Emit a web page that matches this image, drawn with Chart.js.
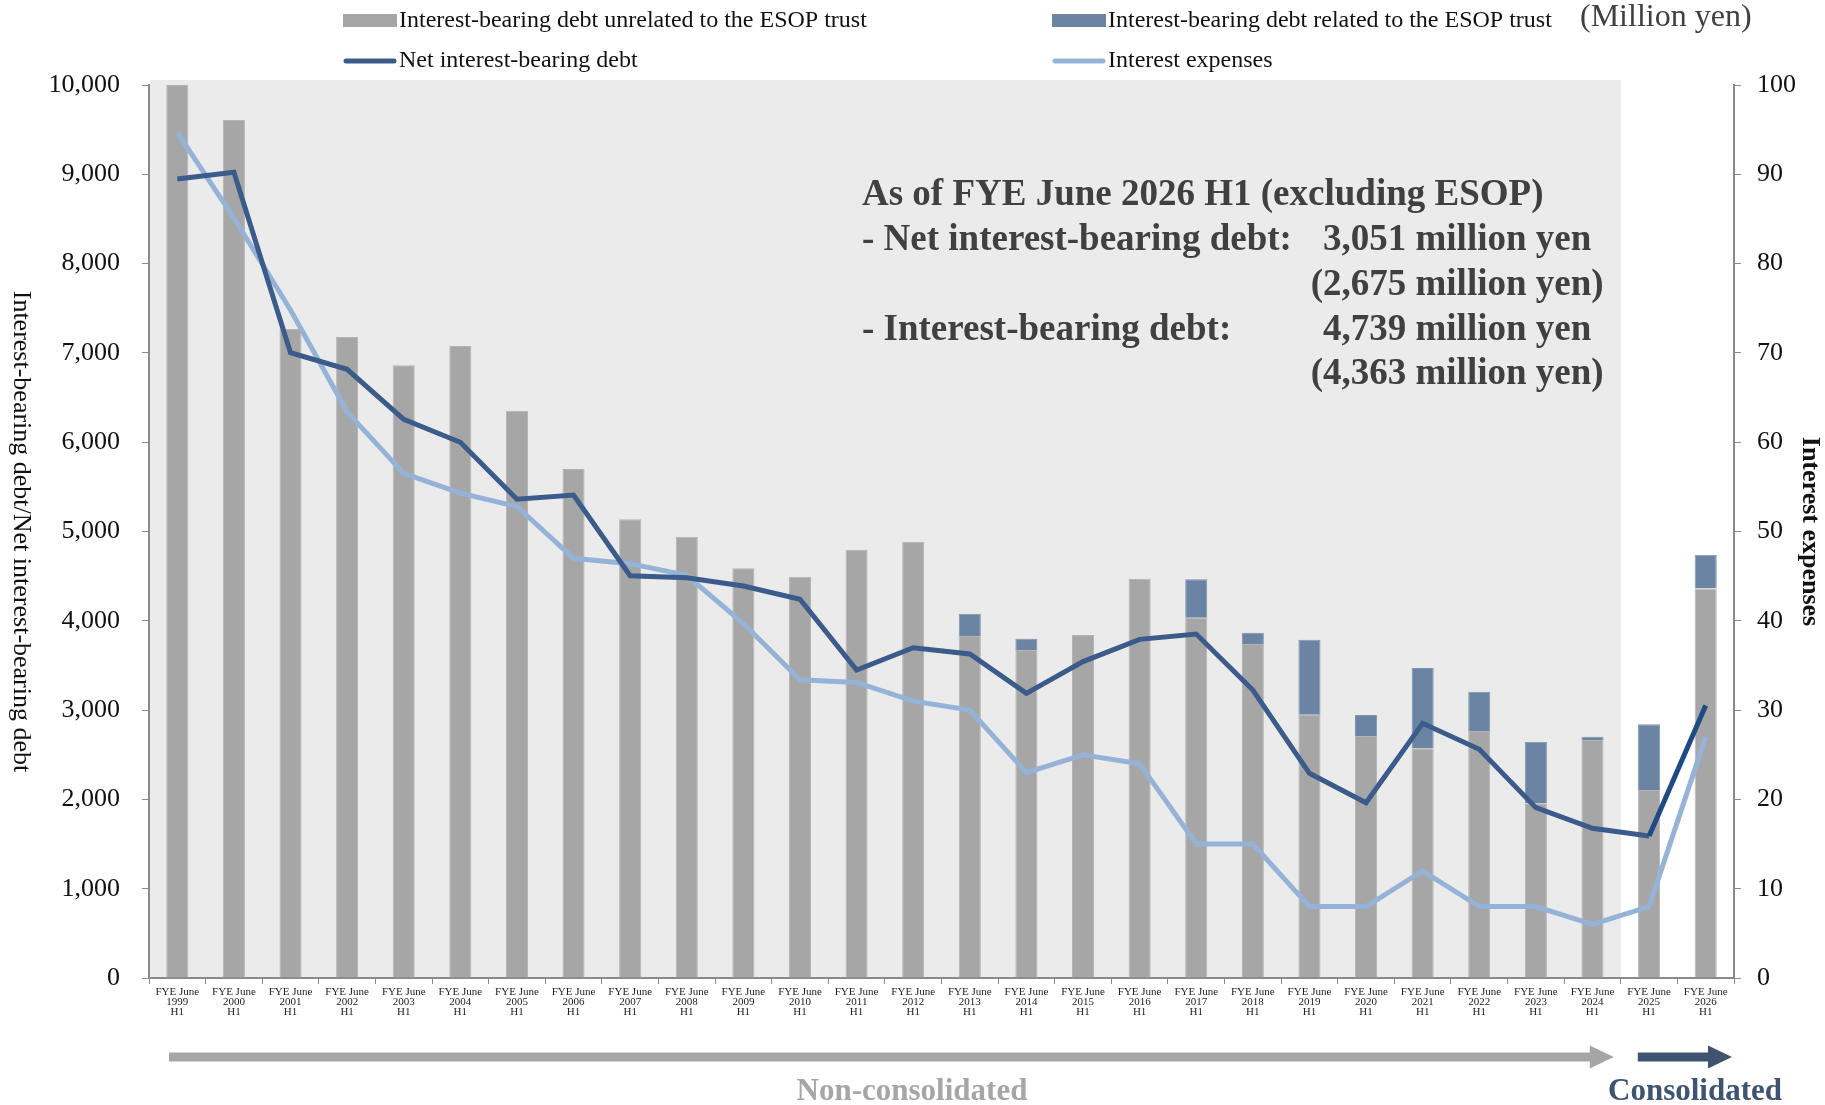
<!DOCTYPE html>
<html><head><meta charset="utf-8">
<script src="https://cdn.jsdelivr.net/npm/chart.js@4.4.1/dist/chart.umd.min.js"></script>
<style>html,body{margin:0;padding:0;background:#fff;}canvas{display:block;}</style>
</head><body>
<canvas id="c" width="1825" height="1105"></canvas>
<script>
// ---- data ----
const categories = ['1999','2000','2001','2002','2003','2004','2005','2006','2007','2008','2009','2010','2011','2012','2013','2014','2015','2016','2017','2018','2019','2020','2021','2022','2023','2024','2025','2026'];
const unrelatedDebt = [10000,9608,7268,7178,6861,7077,6353,5700,5137,4942,4588,4494,4796,4886,3830,3673,3841,4472,4035,3740,2949,2710,2572,2766,1956,2665,2105,4363];
const esopDebt = [0,0,0,0,0,0,0,0,0,0,0,0,0,0,250,127,0,0,430,127,840,235,899,440,690,37,736,376];
const netDebt = [8947,9022,7003,6816,6256,5999,5361,5409,4505,4483,4390,4241,3449,3699,3628,3188,3543,3792,3852,3225,2292,1963,2852,2561,1907,1676,1590,3051];
const interestExpenses = [94.7,85.1,74.8,63.4,56.5,54.3,52.8,47.0,46.4,45.1,39.7,33.4,33.1,31.0,30.0,23.0,25.0,24.0,15.0,15.0,8.0,8.0,12.0,8.0,8.0,6.0,8.0,27.0];
const seriesNames = ['Interest-bearing debt unrelated to the ESOP trust','Interest-bearing debt related to the ESOP trust','Net interest-bearing debt','Interest expenses'];
const xTickLabels = categories.map(y => ['FYE June', y, 'H1']);
const firstConsolidated = '2025';
const periodNames = ['Non-consolidated', 'Consolidated'];
const axisTitles = ['Interest-bearing debt/Net interest-bearing debt', 'Interest expenses'];
const unitLabel = '(Million yen)';

// ---- styles ----
const serif = "'Liberation Serif','Times New Roman',serif";
const C = {gray:'#a6a6a6', esop:'#6b84a4', net:'#3b5b8a', netDark:'#1f4a82', interest:'#95b3d7', axis:'#8a8a8a', bg:'#ebebeb', text:'#404040', cons:'#3f5470'};
const consIdx = categories.indexOf(firstConsolidated);
const fmt = v => v.toLocaleString('en-US');

const decor = {
  id: 'decor',
  beforeDraw(chart) {
    const {ctx, chartArea: a, scales: {x}} = chart;
    ctx.save();
    ctx.fillStyle = '#ffffff';
    ctx.fillRect(0, 0, chart.width, chart.height);
    const boundary = (x.getPixelForValue(consIdx - 1) + x.getPixelForValue(consIdx)) / 2;
    ctx.fillStyle = C.bg;
    ctx.fillRect(a.left + 1, a.top - 5, boundary - a.left - 1, a.bottom - a.top + 4);
    ctx.restore();
  },
  afterDraw(chart) {
    const {ctx, chartArea: a, scales: {x}} = chart;
    ctx.save();
    // legend
    ctx.font = `24px ${serif}`;
    ctx.textBaseline = 'middle';
    ctx.fillStyle = '#111';
    const cols = [343, 1052], rows = [20, 60];
    const items = [
      {type:'bar', color:C.gray, col:0, row:0, label:seriesNames[0]},
      {type:'bar', color:C.esop, col:1, row:0, label:seriesNames[1]},
      {type:'line', color:C.net, col:0, row:1, label:seriesNames[2]},
      {type:'line', color:C.interest, col:1, row:1, label:seriesNames[3]},
    ];
    items.forEach(it => {
      const lx = cols[it.col], ly = rows[it.row];
      if (it.type === 'bar') {
        ctx.fillStyle = it.color;
        ctx.fillRect(lx, ly - 6, 54, 13);
      } else {
        ctx.strokeStyle = it.color; ctx.lineWidth = 5; ctx.lineCap = 'round';
        ctx.beginPath(); ctx.moveTo(lx + 3, ly + 1); ctx.lineTo(lx + 51, ly + 1); ctx.stroke();
      }
      ctx.fillStyle = '#111';
      ctx.textAlign = 'left';
      ctx.fillText(it.label, lx + 56, ly + 1);
    });
    ctx.font = `32px ${serif}`;
    ctx.fillStyle = '#404040';
    ctx.fillText(unitLabel, 1580, 18);

    // axis titles (rotated clockwise)
    ctx.fillStyle = '#111';
    ctx.textAlign = 'center';
    ctx.save();
    ctx.translate(21, (a.top + a.bottom) / 2);
    ctx.rotate(Math.PI / 2);
    ctx.font = `26px ${serif}`;
    ctx.fillText(axisTitles[0], 0, 0);
    ctx.restore();
    ctx.save();
    ctx.translate(1810, (a.top + a.bottom) / 2);
    ctx.rotate(Math.PI / 2);
    ctx.font = `bold 26px ${serif}`;
    ctx.fillText(axisTitles[1], 0, 0);
    ctx.restore();

    // annotation
    const n = categories.length - 1;
    const totalLast = unrelatedDebt[n] + esopDebt[n];
    const netExcl = netDebt[n] - esopDebt[n];
    ctx.font = `bold 37px ${serif}`;
    ctx.fillStyle = C.text;
    ctx.textAlign = 'left';
    const ax = 862, vx = 1323;
    const pw = ctx.measureText('(').width;
    ctx.fillText(`As of FYE June ${categories[n]} H1 (excluding ESOP)`, ax, 195);
    ctx.fillText('- Net interest-bearing debt:', ax, 240);
    ctx.fillText(`${fmt(netDebt[n])} million yen`, vx, 240);
    ctx.fillText(`(${fmt(netExcl)} million yen)`, vx - pw, 285);
    ctx.fillText('- Interest-bearing debt:', ax, 330);
    ctx.fillText(`${fmt(totalLast)} million yen`, vx, 330);
    ctx.fillText(`(${fmt(unrelatedDebt[n])} million yen)`, vx - pw, 374);

    // period arrows
    const boundary = (x.getPixelForValue(consIdx - 1) + x.getPixelForValue(consIdx)) / 2;
    const ay = 1057;
    const arrow = (x0, x1, color) => {
      ctx.fillStyle = color;
      ctx.beginPath();
      ctx.moveTo(x0, ay - 4.5);
      ctx.lineTo(x1 - 24, ay - 4.5);
      ctx.lineTo(x1 - 24, ay - 11.5);
      ctx.lineTo(x1, ay);
      ctx.lineTo(x1 - 24, ay + 11.5);
      ctx.lineTo(x1 - 24, ay + 4.5);
      ctx.lineTo(x0, ay + 4.5);
      ctx.closePath();
      ctx.fill();
    };
    arrow(a.left + 20, boundary - 7, C.gray);
    arrow(boundary + 17, a.right - 2, C.cons);
    ctx.font = `bold 31px ${serif}`;
    ctx.textAlign = 'center';
    ctx.fillStyle = C.gray;
    ctx.fillText(periodNames[0], 912, 1092);
    ctx.fillStyle = C.cons;
    ctx.fillText(periodNames[1], 1695, 1092);
    ctx.restore();
  }
};

new Chart(document.getElementById('c'), {
  data: {
    labels: xTickLabels,
    datasets: [
      {type:'line', label:seriesNames[2], data:netDebt, yAxisID:'y', stack:'net', borderColor:C.net, borderWidth:5, pointRadius:0, tension:0, order:0,
        segment:{borderColor: s => s.p0DataIndex >= consIdx ? C.netDark : undefined}},
      {type:'line', label:seriesNames[3], data:interestExpenses, yAxisID:'y1', borderColor:C.interest, borderWidth:5, pointRadius:0, tension:0, order:1},
      {type:'bar', label:seriesNames[0], data:unrelatedDebt, yAxisID:'y', stack:'debt', backgroundColor:C.gray, borderColor:'#b4b4b4', borderWidth:{left:1,right:1,top:1,bottom:0}, order:2, categoryPercentage:1, barPercentage:0.39},
      {type:'bar', label:seriesNames[1], data:esopDebt, yAxisID:'y', stack:'debt', backgroundColor:C.esop, borderColor:'#8095b0', borderWidth:{left:1,right:1,top:1,bottom:0}, order:2, categoryPercentage:1, barPercentage:0.39},
    ]
  },
  options: {
    responsive:false, devicePixelRatio:1, animation:false,
    layout:{padding:{top:85, left:0, right:0, bottom:0}},
    plugins:{legend:{display:false}, tooltip:{enabled:false}, title:{display:false}},
    scales:{
      x:{stacked:true, offset:true,
        grid:{offset:true, drawOnChartArea:false, drawTicks:true, tickLength:6, color:C.axis},
        border:{color:C.axis, width:2},
        ticks:{font:{family:serif, size:11, lineHeight:0.92}, color:'#222', padding:3, maxRotation:0, autoSkip:false},
        afterFit(s){ s.height = 127; }
      },
      y:{stacked:true, position:'left', min:0, max:10000,
        grid:{drawOnChartArea:false, tickLength:7, color:C.axis},
        border:{color:C.axis, width:2},
        ticks:{stepSize:1000, font:{family:serif, size:26}, color:'#111', padding:22, callback:v => fmt(v)},
        afterFit(s){ s.width = 149; }
      },
      y1:{position:'right', min:0, max:100,
        grid:{drawOnChartArea:false, tickLength:7, color:C.axis},
        border:{color:C.axis, width:2},
        ticks:{stepSize:10, font:{family:serif, size:26}, color:'#111', padding:16},
        afterFit(s){ s.width = 91; }
      }
    }
  },
  plugins:[decor]
});
</script>
</body></html>
